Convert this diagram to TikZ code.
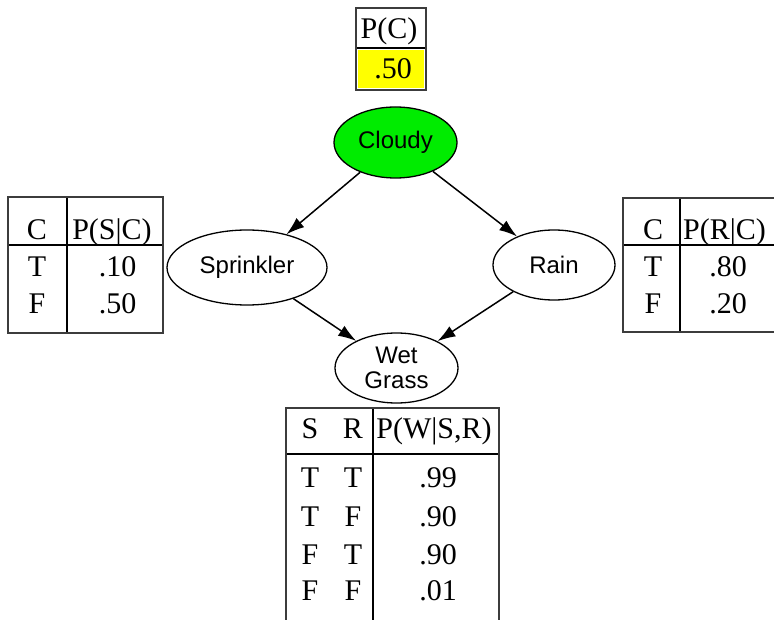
\documentclass[tikz,border=0pt]{standalone}
\usepackage{fontspec}
\setmainfont{Liberation Serif}
\setsansfont{Liberation Sans}
\usetikzlibrary{arrows.meta,shapes.geometric,positioning}
\definecolor{bnGreen}{RGB}{0,236,0}
\definecolor{bnYellow}{RGB}{255,255,0}
\definecolor{bnFrame}{RGB}{60,60,60}
\tikzset{
  bnnode/.style={ellipse,draw,line width=1.3pt,inner sep=0pt,align=center,
    font=\sffamily\fontsize{24}{25}\selectfont},
  bnedge/.style={line width=1.5pt,-{Latex[length=18pt,width=12pt]}},
  cpt/.style={inner sep=0pt,anchor=base,font=\rmfamily\fontsize{30}{30}\selectfont},
  cptframe/.style={draw=bnFrame,line width=1.8pt},
  cptrule/.style={draw=black,line width=1.2pt}
}

\begin{document}
\begin{tikzpicture}[x=1pt,y=-1pt]
  \useasboundingbox (0,0) rectangle (774,620);
  \clip (0,0) rectangle (774,620);

  \node[bnnode,fill=bnGreen,minimum width=123pt,minimum height=71pt] (cloudy) at (395.5,142.5) {Cloudy};
  \node[bnnode,minimum width=160pt,minimum height=75pt] (sprinkler) at (247,267.5) {Sprinkler};
  \node[bnnode,minimum width=122pt,minimum height=70pt] (rain) at (554,265) {Rain};
  \node[bnnode,minimum width=123pt,minimum height=70pt] (wet) at (396.5,368) {Wet\\Grass};

  \draw[bnedge] (cloudy) -- (sprinkler);
  \draw[bnedge] (cloudy) -- (rain);
  \draw[bnedge] (sprinkler) -- (wet);
  \draw[bnedge] (rain) -- (wet);

  \fill[bnYellow] (358,50) rectangle (424,88);
  \draw[cptrule] (356,48) -- (426,48);
  \draw[cptframe] (356,8) rectangle (426,90);
  \node[cpt] (pcHead) at (389,39) {P(C)};
  \node[cpt] (pcVal) at (393,79) {.50};

  \draw[cptrule] (8,245) -- (163,245);
  \draw[cptrule] (67,197) -- (67,333);
  \draw[cptframe] (8,197) rectangle (163,333);
  \node[cpt] (psC) at (37,240) {C};
  \node[cpt] (psHead) at (112,240) {P(S|C)};
  \node[cpt] (psT) at (37,277) {T};
  \node[cpt] (psF) at (37,314) {F};
  \node[cpt] (psTval) at (117.5,277) {.10};
  \node[cpt] (psFval) at (117.5,314) {.50};

  \draw[cptrule] (623,245) -- (778,245);
  \draw[cptrule] (680,198) -- (680,332);
  \draw[cptframe] (623,198) rectangle (778,332);
  \node[cpt] (prC) at (653,240) {C};
  \node[cpt] (prHead) at (724.5,240) {P(R|C)};
  \node[cpt] (prT) at (653,277) {T};
  \node[cpt] (prF) at (653,314) {F};
  \node[cpt] (prTval) at (728,277) {.80};
  \node[cpt] (prFval) at (728,314) {.20};

  \draw[cptrule] (286,454) -- (499,454);
  \draw[cptrule] (373,408) -- (373,640);
  \draw[cptframe] (286,408) rectangle (499,640);
  \node[cpt] (pwS) at (310,438) {S};
  \node[cpt] (pwR) at (353,438) {R};
  \node[cpt] (pwHead) at (434,438) {P(W|S,R)};
  \node[cpt] (pwS1) at (310,487) {T};
  \node[cpt] (pwR1) at (353,487) {T};
  \node[cpt] (pwV1) at (438,487) {.99};
  \node[cpt] (pwS2) at (310,526) {T};
  \node[cpt] (pwR2) at (353,526) {F};
  \node[cpt] (pwV2) at (438,526) {.90};
  \node[cpt] (pwS3) at (310,564) {F};
  \node[cpt] (pwR3) at (353,564) {T};
  \node[cpt] (pwV3) at (438,564) {.90};
  \node[cpt] (pwS4) at (310,600) {F};
  \node[cpt] (pwR4) at (353,600) {F};
  \node[cpt] (pwV4) at (438,600) {.01};
\end{tikzpicture}
\end{document}
